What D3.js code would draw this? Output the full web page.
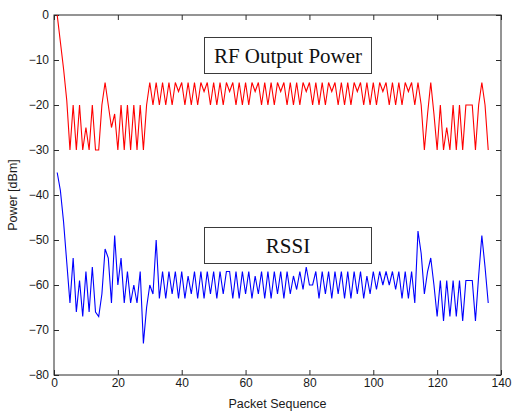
<!DOCTYPE html>
<html>
<head>
<meta charset="utf-8">
<script src="https://cdn.jsdelivr.net/npm/d3@7"></script>
<style>
  body { margin: 0; background: #ffffff; }
  #canvas svg { display: block; }
</style>
</head>
<body>
<div id="canvas"></div>
<script>
"use strict"

/* Configuration variables: drawing */
let svgWidth = 513;
let svgHeight = 414;
/* Configuration variables: plot box */
let leftMargin = 54
let rightMargin = 12
let topMargin = 15
let bottomMargin = 39

/* Tick labels */
let xTicks = [0, 20, 40, 60, 80, 100, 120, 140];
let yTicks = [0, -10, -20, -30, -40, -50, -60, -70, -80];

/* RF output power per packet (dBm), packets 1..136 */
let rfPower = [
    0, -6, -12, -19, -30, -20, -30, -20, -30, -25,
    -30, -20, -30, -30, -20, -15, -20, -25, -22, -30,
    -20, -30, -20, -30, -20, -30, -20, -30, -20, -15,
    -20, -15, -20, -15, -20, -15, -20, -15, -17, -15,
    -20, -15, -20, -15, -20, -15, -17, -15, -20, -15,
    -20, -15, -20, -15, -17, -15, -20, -15, -20, -15,
    -20, -15, -17, -15, -20, -15, -20, -15, -20, -15,
    -17, -15, -20, -15, -20, -15, -20, -15, -17, -15,
    -20, -15, -20, -15, -20, -15, -17, -15, -20, -15,
    -20, -15, -20, -15, -17, -15, -20, -15, -20, -15,
    -20, -15, -17, -15, -20, -15, -20, -15, -20, -15,
    -17, -15, -20, -15, -20, -30, -22, -15, -22, -30,
    -20, -30, -25, -30, -20, -30, -20, -30, -20, -20,
    -20, -30, -20, -15, -20, -30
];

/* RSSI per packet (dBm), packets 1..136 */
let rssi = [
    -35, -39, -46, -55, -64, -54, -66, -59, -67, -57,
    -66, -56, -66, -67, -62, -52, -54, -64, -49, -60,
    -54, -64, -57, -64, -60, -64, -57, -73, -65, -60,
    -62, -50, -63, -57, -63, -57, -62, -57, -63, -57,
    -63, -58, -62, -57, -63, -57, -63, -57, -62, -57,
    -63, -57, -62, -57, -57, -63, -57, -63, -57, -62,
    -57, -63, -58, -62, -57, -63, -57, -63, -57, -62,
    -57, -63, -57, -62, -58, -61, -57, -61, -56, -60,
    -60, -57, -63, -57, -62, -57, -63, -57, -62, -57,
    -63, -57, -63, -57, -62, -57, -63, -58, -62, -57,
    -61, -57, -60, -57, -60, -57, -61, -57, -63, -57,
    -63, -57, -64, -48, -53, -62, -57, -54, -60, -67,
    -59, -68, -59, -67, -59, -67, -59, -68, -59, -59,
    -59, -68, -58, -49, -56, -64
];

/* Box annotations */
let boxLabels = ["RF Output Power", "RSSI"];

/* Create drawing canvas */
let svg = d3.select("#canvas")
    .append("svg")
    .attr("width", svgWidth)
    .attr("height", svgHeight);

/* Define X and Y scales */
let xScale = d3.scaleLinear()
    .domain([0, 140])
    .range([leftMargin, svgWidth - rightMargin]);

let yScale = d3.scaleLinear()
    .domain([-80, 0])
    .range([svgHeight - bottomMargin, topMargin]);

let axisColor = "#2b2b2b";

/* axes with inward ticks on all four sides */
let xAxis = svg.append("g")
    .attr("transform", "translate(0," + yScale(-80) + ")")
    .call(d3.axisBottom(xScale).tickValues(xTicks).tickSize(-5).tickSizeOuter(0).tickPadding(3));

let xAxisTop = svg.append("g")
    .attr("transform", "translate(0," + yScale(0) + ")")
    .call(d3.axisTop(xScale).tickValues(xTicks).tickSize(-5).tickSizeOuter(0).tickFormat(""));

let yAxis = svg.append("g")
    .attr("transform", "translate(" + xScale(0) + ",0)")
    .call(d3.axisLeft(yScale).tickValues(yTicks).tickSize(-5).tickSizeOuter(0).tickPadding(5));

let yAxisRight = svg.append("g")
    .attr("transform", "translate(" + xScale(140) + ",0)")
    .call(d3.axisRight(yScale).tickValues(yTicks).tickSize(-5).tickSizeOuter(0).tickFormat(""));

svg.selectAll(".domain").remove();
svg.selectAll(".tick line").attr("stroke", axisColor);
svg.selectAll(".tick text")
    .attr("fill", "#1a1a1a")
    .style("font-family", "Liberation Sans, Arial, sans-serif")
    .style("font-size", "12px");

/* Draw plot box */
svg.append("rect")
    .attr("x", xScale(0))
    .attr("y", yScale(0))
    .attr("width", xScale(140) - xScale(0))
    .attr("height", yScale(-80) - yScale(0))
    .attr("fill", "none")
    .attr("stroke", axisColor);

/* draw the two series */
let line = d3.line()
    .x(function (value, i) { return xScale(i + 1); })
    .y(function (value) { return yScale(value); });

svg.append("path")
    .datum(rfPower)
    .attr("fill", "none")
    .attr("stroke", "#ff0000")
    .attr("stroke-width", 1.1)
    .attr("d", line);

svg.append("path")
    .datum(rssi)
    .attr("fill", "none")
    .attr("stroke", "#0000ff")
    .attr("stroke-width", 1.1)
    .attr("d", line);

/**** annotation boxes ****/
let boxTop = [37, 227];
for (let i = 0; i < 2; i++) {
    svg.append("rect")
        .attr("x", 204.5)
        .attr("y", boxTop[i] + 0.5)
        .attr("width", 167)
        .attr("height", 36)
        .attr("fill", "white")
        .attr("stroke", "#3a3a3a");

    svg.append("text")
        .attr("x", 288)
        .attr("y", boxTop[i] + 26)
        .attr("text-anchor", "middle")
        .style("font-family", "Liberation Serif, Times New Roman, serif")
        .style("font-size", "21px")
        .attr("fill", "#111")
        .text(boxLabels[i]);
};

/**** label the axes ****/
svg.append("text")
    .attr("x", (xScale(0) + xScale(140)) / 2)
    .attr("y", svgHeight - 6)
    .attr("text-anchor", "middle")
    .style("font-family", "Liberation Sans, Arial, sans-serif")
    .style("font-size", "12.5px")
    .attr("fill", "#1a1a1a")
    .text("Packet Sequence");

svg.append("text")
    .attr("x", -(yScale(0) + yScale(-80)) / 2)
    .attr("y", 17)
    .attr("text-anchor", "middle")
    .style("font-family", "Liberation Sans, Arial, sans-serif")
    .style("font-size", "12.5px")
    .attr("fill", "#1a1a1a")
    .attr("transform", "rotate(-90)")
    .text("Power [dBm]");
</script>
</body>
</html>
